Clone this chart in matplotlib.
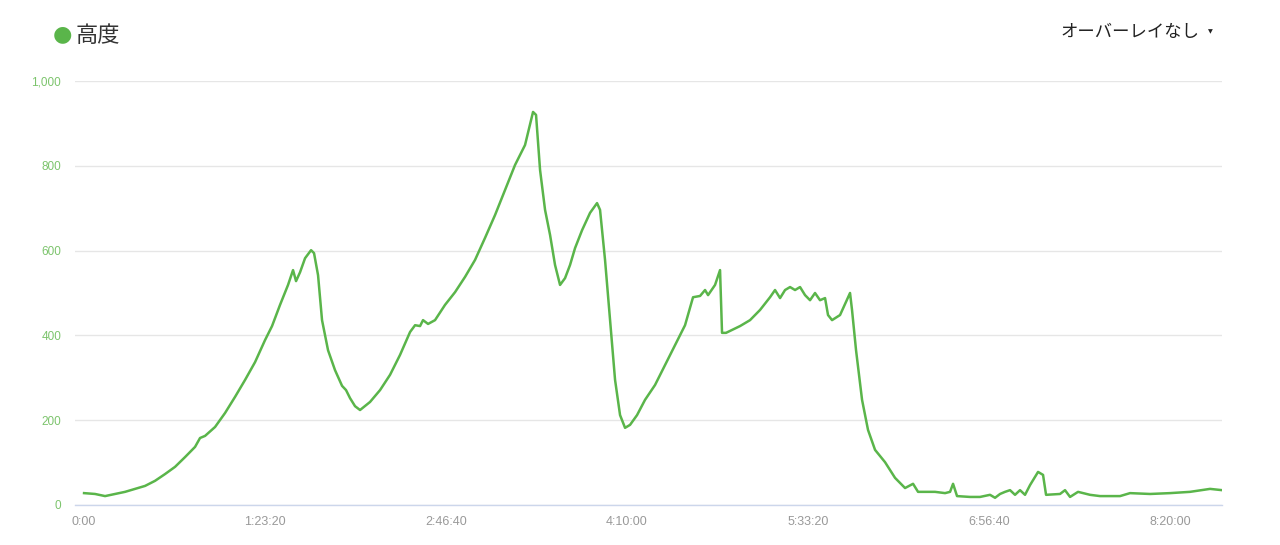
import matplotlib
matplotlib.use("Agg")
import matplotlib.pyplot as plt
from matplotlib.ticker import FuncFormatter, FixedLocator

# elevation profile: time (s) vs altitude (m)
time_s = [0, 304, 580, 856, 1133, 1409, 1685, 1961, 2238, 2514, 2790, 3066, 3204, 3343,
          3619, 3895, 4171, 4448, 4724, 5000, 5193, 5414, 5635, 5773, 5856, 5967, 6105,
          6271, 6353, 6464, 6574, 6740, 6933, 7127, 7237, 7348, 7486, 7624, 7900, 8177,
          8453, 8729, 9006, 9144, 9282, 9364, 9503, 9696, 9972, 10249, 10525, 10801,
          11077, 11354, 11630, 11906, 12182, 12403, 12486, 12597, 12735, 12873, 13011,
          13149, 13287, 13425, 13564, 13757, 13978, 14171, 14254, 14392, 14530, 14669,
          14807, 14945, 15083, 15276, 15497, 15773, 16050, 16326, 16602, 16823, 17017,
          17155, 17238, 17431, 17569, 17624, 17735, 18122, 18398, 18674, 18950, 19088,
          19227, 19365, 19503, 19641, 19779, 19917, 20055, 20193, 20331, 20470, 20552,
          20663, 20884, 21160, 21215, 21326, 21492, 21657, 21851, 22127, 22403, 22680,
          22901, 23039, 23508, 23785, 23923, 24006, 24116, 24475, 24751, 25027, 25166,
          25304, 25442, 25580, 25718, 25856, 25994, 26133, 26354, 26492, 26575, 26961,
          27099, 27238, 27459, 27790, 28066, 28619, 28895, 29448, 30000, 30552, 31105,
          31436]
altitude = [28, 26, 21, 26, 31, 38, 45, 57, 73, 90, 113, 137, 158, 163,
            184, 217, 255, 295, 337, 389, 422, 472, 519, 554, 528, 549, 582,
            601, 594, 542, 436, 365, 318, 281, 271, 252, 233, 224, 243, 271,
            307, 354, 408, 424, 422, 436, 427, 436, 472, 502, 538, 578,
            630, 684, 743, 802, 849, 927, 920, 790, 696, 637, 566,
            519, 535, 566, 606, 648, 689, 712, 696, 578, 436, 295,
            212, 182, 189, 212, 248, 283, 330, 377, 424, 490, 493,
            507, 495, 519, 554, 406, 406, 422, 436, 460, 490, 507,
            488, 507, 514, 507, 514, 495, 483, 500, 483, 488, 448,
            436, 448, 500, 460, 365, 248, 177, 130, 101, 64, 40,
            50, 31, 31, 28, 31, 50, 21, 19, 19, 24, 17,
            26, 31, 35, 24, 35, 24, 47, 78, 71, 24, 26,
            35, 19, 31, 24, 21, 21, 28, 26, 28, 31, 38,
            35]

x_ticks = [0, 5000, 10000, 15000, 20000, 25000, 30000]
y_ticks = [0, 200, 400, 600, 800, 1000]

line_color = "#5ab54a"


def fmt_time(v, pos):
    v = int(round(v))
    if v == 0:
        return "0:00"
    h, rem = divmod(v, 3600)
    m, s = divmod(rem, 60)
    return f"{h}:{m:02d}:{s:02d}"


fig = plt.figure(figsize=(12.8, 5.45), dpi=100)
ax = fig.add_axes([0.0586, 0.0734, 0.8961, 0.778])

ax.plot(time_s, altitude, color=line_color, linewidth=1.8, solid_joinstyle="round")

ax.set_xlim(-250, 31436)
ax.set_ylim(0, 1000)
ax.xaxis.set_major_locator(FixedLocator(x_ticks))
ax.xaxis.set_major_formatter(FuncFormatter(fmt_time))
ax.yaxis.set_major_locator(FixedLocator(y_ticks))
ax.yaxis.set_major_formatter(FuncFormatter(lambda v, p: f"{int(v):,}"))

ax.grid(axis="y", color="#e6e6e6", linewidth=1)
ax.set_axisbelow(True)
for side in ["top", "right", "left"]:
    ax.spines[side].set_visible(False)
ax.spines["bottom"].set_color("#ccd6eb")
ax.spines["bottom"].set_linewidth(1)

ax.tick_params(axis="x", length=0, pad=8, labelsize=9, labelcolor="#999999")
ax.tick_params(axis="y", length=0, pad=10, labelsize=8.5, labelcolor="#7cc46c")
for lab in ax.get_xticklabels() + ax.get_yticklabels():
    lab.set_family(["Liberation Sans", "DejaVu Sans"])

# legend-like title and overlay selector
fig.text(0.0485, 0.937, "\u25cf", color=line_color, fontsize=16, va="center", ha="center",
         family=["DejaVu Sans"])
fig.text(0.059, 0.935, "高度", color="#333333", fontsize=16, va="center", ha="left",
         family=["Noto Sans CJK JP", "DejaVu Sans"])
fig.text(0.9375, 0.941, "オーバーレイなし", color="#222222", fontsize=12.5,
         va="center", ha="right", family=["Noto Sans CJK JP", "DejaVu Sans"])
fig.text(0.9455, 0.941, "\u25bc", color="#222222", fontsize=4.5,
         va="center", ha="center", family=["DejaVu Sans"])

fig.savefig("out.png", dpi=100)
